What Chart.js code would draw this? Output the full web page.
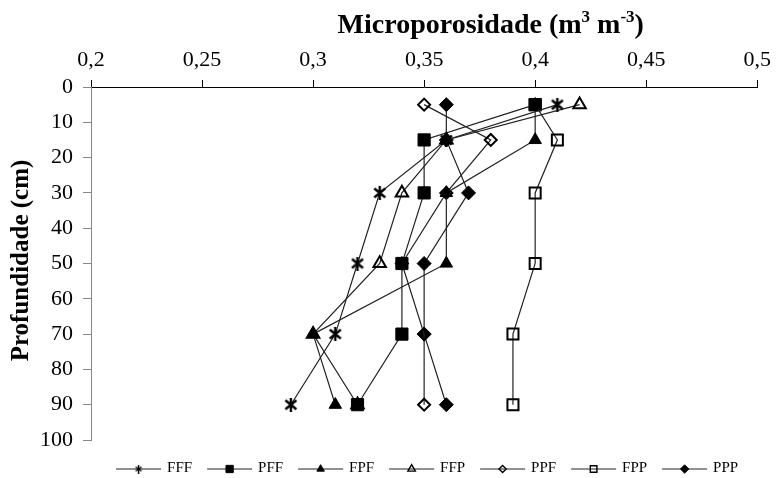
<!DOCTYPE html>
<html><head><meta charset="utf-8">
<script src="https://cdn.jsdelivr.net/npm/chart.js@4.4.1/dist/chart.umd.min.js"></script>
<style>html,body{margin:0;padding:0;background:#fff}#wrap{width:778px;height:478px}</style>
</head><body><div id="wrap"><canvas id="c" width="778" height="478"></canvas></div>
<script>
// ---- data ----
const depths = [5, 15, 30, 50, 70, 90];
const seriesNames = ['FFF', 'PFF', 'FPF', 'FFP', 'PPF', 'FPP', 'PPP'];
const FFF = [0.41, 0.36, 0.33, 0.32, 0.31, 0.29];
const PFF = [0.40, 0.35, 0.35, 0.34, 0.34, 0.32];
const FPF = [0.40, 0.40, 0.36, 0.36, 0.30, 0.31];
const FFP = [0.42, 0.36, 0.34, 0.33, 0.30, 0.32];
const PPF = [0.35, 0.38, 0.36, 0.34, 0.35, 0.35];
const FPP = [0.40, 0.41, 0.40, 0.40, 0.39, 0.39];
const PPP = [0.36, 0.36, 0.37, 0.35, 0.35, 0.36];
const xTickValues = [0.2, 0.25, 0.3, 0.35, 0.4, 0.45, 0.5];
const xTickLabels = ['0,2', '0,25', '0,3', '0,35', '0,4', '0,45', '0,5'];
const yTickValues = [0, 10, 20, 30, 40, 50, 60, 70, 80, 90, 100];
const xTitle = ['Microporosidade (m', '3', ' m', '-3', ')'];
const yTitle = 'Profundidade (cm)';

const seriesValues = [FFF, PFF, FPF, FFP, PPF, FPP, PPP];
const SERIF = '"Times New Roman", "Liberation Serif", serif';

function starImg(size, lw) {
  const c = document.createElement('canvas');
  c.width = size; c.height = size;
  const g = c.getContext('2d');
  g.strokeStyle = '#000'; g.lineWidth = lw;
  const m = 1.5;
  g.beginPath();
  g.moveTo(m, m + 1); g.lineTo(size - m, size - m - 1);
  g.moveTo(size - m, m + 1); g.lineTo(m, size - m - 1);
  g.moveTo(size / 2, 0); g.lineTo(size / 2, size);
  g.stroke();
  return c;
}
const starBig = starImg(14, 2.4);
const starSmall = starImg(9, 1.5);

const styles = [
  {pointStyle: starBig, radius: 7, bg: '#000', bw: 1, legendStyle: starSmall},
  {pointStyle: 'rect', radius: 8.6, bg: '#000', bw: 1},
  {pointStyle: 'triangle', radius: 7.2, bg: '#000', bw: 1},
  {pointStyle: 'triangle', radius: 7.2, bg: 'rgba(0,0,0,0)', bw: 2},
  {pointStyle: 'rectRot', radius: 6, bg: 'rgba(0,0,0,0)', bw: 2},
  {pointStyle: 'rect', radius: 7.8, bg: 'rgba(0,0,0,0)', bw: 2},
  {pointStyle: 'rectRot', radius: 7, bg: '#000', bw: 1}
];

const datasets = seriesNames.map((name, i) => ({
  label: name,
  data: seriesValues[i].map((v, k) => ({x: v, y: depths[k]})),
  showLine: true,
  borderColor: '#222',
  borderWidth: 1.2,
  pointStyle: styles[i].pointStyle,
  pointRadius: styles[i].radius,
  pointHoverRadius: styles[i].radius,
  pointBackgroundColor: styles[i].bg,
  pointBorderColor: '#000',
  pointBorderWidth: styles[i].bw,
  fill: false
}));

const titlesPlugin = {
  id: 'titles',
  afterDraw(chart) {
    const ctx = chart.ctx;
    const ca = chart.chartArea;
    ctx.save();
    ctx.fillStyle = '#000';
    ctx.textBaseline = 'alphabetic';
    const big = 'bold 28px ' + SERIF, small = 'bold 17px ' + SERIF;
    let total = 0;
    xTitle.forEach((t, i) => { ctx.font = (i % 2 ? small : big); total += ctx.measureText(t).width; });
    let x = ca.left + (ca.right - ca.left) * 0.6 - total / 2;
    const base = 33;
    xTitle.forEach((t, i) => {
      ctx.font = (i % 2 ? small : big);
      ctx.fillText(t, x, i % 2 ? base - 11 : base);
      x += ctx.measureText(t).width;
    });
    ctx.font = 'bold 25px ' + SERIF;
    ctx.translate(22, (ca.top + ca.bottom) / 2 - 3);
    ctx.rotate(-Math.PI / 2);
    ctx.textAlign = 'center';
    ctx.textBaseline = 'middle';
    ctx.fillText(yTitle, 0, 0);
    ctx.restore();
  }
};

function drawMarker(ctx, st, cx, cy, scale) {
  ctx.save();
  ctx.fillStyle = st.bg; ctx.strokeStyle = '#000';
  ctx.lineWidth = Math.max(1, st.bw * 0.7);
  const r = st.radius * scale;
  if (typeof st.pointStyle !== 'string') {
    const img = st.legendStyle;
    ctx.drawImage(img, cx - img.width / 2, cy - img.height / 2);
  } else {
    ctx.beginPath();
    if (st.pointStyle === 'rect') {
      const s = r * Math.SQRT1_2;
      ctx.rect(cx - s, cy - s, 2 * s, 2 * s);
    } else if (st.pointStyle === 'rectRot') {
      ctx.moveTo(cx, cy - r); ctx.lineTo(cx + r, cy); ctx.lineTo(cx, cy + r); ctx.lineTo(cx - r, cy); ctx.closePath();
    } else if (st.pointStyle === 'triangle') {
      ctx.moveTo(cx, cy - r);
      ctx.lineTo(cx + Math.sin(2 * Math.PI / 3) * r, cy - Math.cos(2 * Math.PI / 3) * r);
      ctx.lineTo(cx + Math.sin(4 * Math.PI / 3) * r, cy - Math.cos(4 * Math.PI / 3) * r);
      ctx.closePath();
    }
    ctx.fill(); ctx.stroke();
  }
  ctx.restore();
}

const legendPlugin = {
  id: 'lineLegend',
  afterDraw(chart) {
    const ctx = chart.ctx, ca = chart.chartArea;
    const lineLen = 45, gap = 6, pitch = 91;
    ctx.save();
    ctx.font = '15px ' + SERIF;
    const lastW = ctx.measureText(seriesNames[seriesNames.length - 1]).width;
    const total = pitch * (seriesNames.length - 1) + lineLen + gap + lastW;
    let x0 = (ca.left + ca.right) / 2 + 3 - total / 2;
    const cy = 469;
    seriesNames.forEach((name, i) => {
      const x = x0 + i * pitch;
      ctx.strokeStyle = '#222'; ctx.lineWidth = 1.2;
      ctx.beginPath(); ctx.moveTo(x, cy); ctx.lineTo(x + lineLen, cy); ctx.stroke();
      drawMarker(ctx, styles[i], x + lineLen / 2, cy, 0.6);
      ctx.fillStyle = '#000'; ctx.textAlign = 'left'; ctx.textBaseline = 'middle';
      ctx.fillText(name, x + lineLen + gap, cy - 1);
    });
    ctx.restore();
  }
};

new Chart(document.getElementById('c'), {
  type: 'scatter',
  data: {datasets},
  options: {
    responsive: false,
    animation: false,
    devicePixelRatio: 1,
    layout: {padding: {left: 0, right: 15, top: 0, bottom: 38}},
    plugins: {legend: {display: false}, tooltip: {enabled: false}, title: {display: false}},
    scales: {
      x: {
        type: 'linear', position: 'top', min: 0.2, max: 0.5,
        afterFit(s) { s.height = 87; },
        afterBuildTicks(s) { s.ticks = xTickValues.map(v => ({value: v})); },
        ticks: {
          callback: (v, i) => xTickLabels[i],
          font: {family: SERIF, size: 22}, color: '#000', padding: 7, maxRotation: 0
        },
        grid: {drawOnChartArea: false, drawTicks: true, tickLength: 7, color: '#000'},
        border: {display: true, color: '#000', width: 1},
        title: {display: false}
      },
      y: {
        type: 'linear', reverse: true, min: 0, max: 100,
        afterFit(s) { s.width = 91; },
        afterBuildTicks(s) { s.ticks = yTickValues.map(v => ({value: v})); },
        ticks: {
          callback: (v) => String(v),
          font: {family: SERIF, size: 22}, color: '#000', padding: 10
        },
        grid: {drawOnChartArea: false, drawTicks: true, tickLength: 8, color: '#888'},
        border: {display: true, color: '#888', width: 1},
        title: {display: false}
      }
    }
  },
  plugins: [titlesPlugin, legendPlugin]
});
</script>
</body></html>
